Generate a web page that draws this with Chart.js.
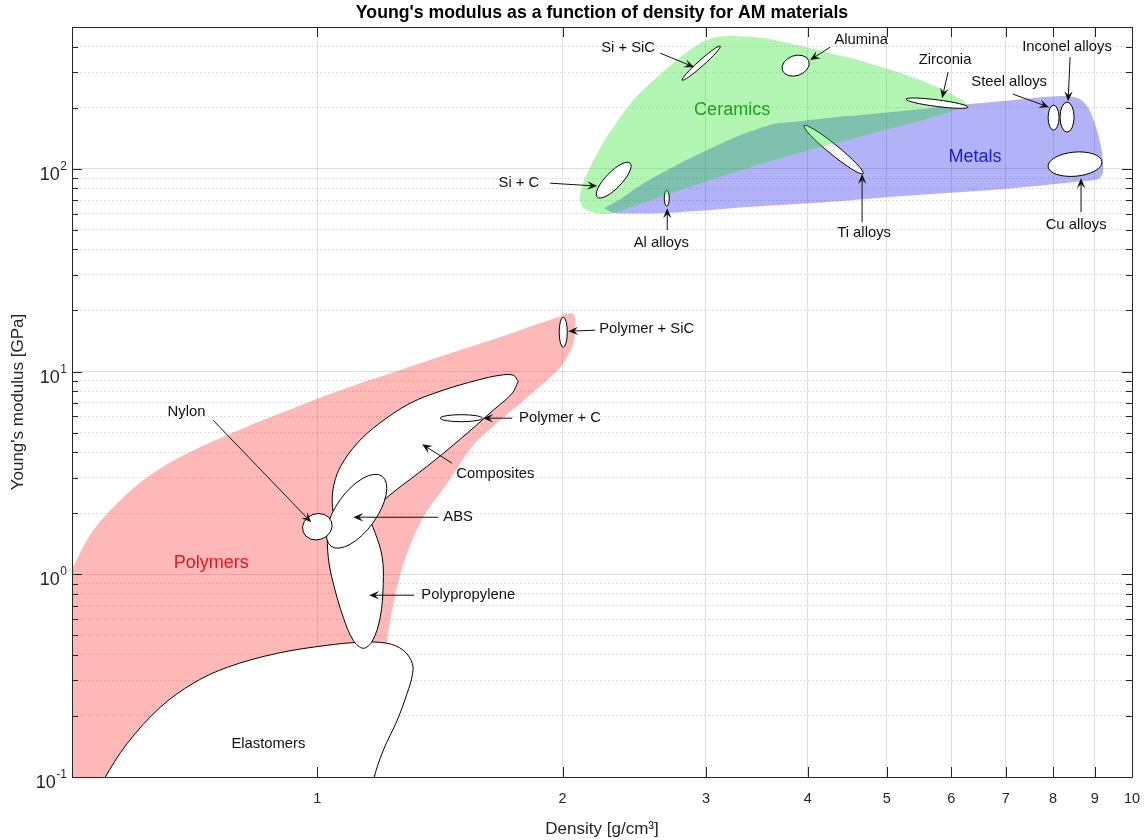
<!DOCTYPE html>
<html>
<head>
<meta charset="utf-8">
<title>Young's modulus vs density</title>
<script src="https://cdn.jsdelivr.net/npm/chart.js"></script>
<style>
  html, body { margin: 0; padding: 0; background: #fff; }
  canvas { display: block; }
</style>
</head>
<body>
<canvas id="chart" width="1146" height="840"></canvas>
<script>
// ticks
const xTickValues = [1, 2, 3, 4, 5, 6, 7, 8, 9, 10];
const yDecades = [0.1, 1, 10, 100];
const yDecadeExp = ['-1', '0', '1', '2'];
const yMinorValues = [0.2, 0.3, 0.4, 0.5, 0.6, 0.7, 0.8, 0.9, 2, 3, 4, 5, 6, 7, 8, 9,
                      20, 30, 40, 50, 60, 70, 80, 90, 200, 300, 400];

// family envelopes, outline points: density [g/cm3], modulus [GPa]
const polymersRho = [0.484, 0.501, 0.531, 0.585, 0.642, 0.705, 0.811, 0.934, 1.076, 1.240, 1.456, 1.677, 1.877, 1.987, 2.056, 2.073,
                     2.062, 1.987, 1.841, 1.677, 1.554, 1.444, 1.349, 1.289, 1.253, 1.229, 1.215, 1.195, 1.175, 1.161, 0.4705];
const polymersE   = [0.834, 1.083, 1.648, 2.51, 3.33, 4.09, 5.25, 6.59, 8.18, 9.92, 12.3, 14.8, 17.3, 18.7, 19.4, 18.3,
                     13.8, 10.5, 7.91, 5.75, 4.33, 2.81, 1.91, 1.27, 0.863, 0.593, 0.422, 0.190, 0.086, 0.0546, 0.0546];

const metalsRho = [2.250, 2.321, 2.789, 3.371, 4.061, 5.193, 6.887, 8.465, 9.085, 9.213, 9.187, 9.058, 8.831,
                   8.585, 8.091, 6.887, 6.274, 5.193, 4.470, 3.913, 3.627, 3.304, 3.061, 2.789, 2.541, 2.354];
const metalsE   = [63.9, 60.4, 61.1, 64.7, 67.7, 73.2, 79.3, 85.9, 88.9, 96.2, 120.8, 155.0, 201.3,
                   222.9, 228.1, 215.5, 208.3, 192.4, 181.8, 171.7, 166.0, 146.5, 127.8, 106.6, 86.9, 70.8];

const ceramicsRho = [2.097, 2.121, 2.206, 2.308, 2.442, 2.614, 2.789, 2.951, 3.096, 3.239, 3.526, 3.882, 4.261,
                     4.677, 5.297, 5.813, 6.099, 6.256, 5.813, 4.770, 3.700, 2.951, 2.563, 2.301, 2.194, 2.121];
const ceramicsE   = [70.0, 85.9, 119.4, 160.4, 217.9, 283.1, 355.3, 416.5, 446.0, 451.1, 441.0, 407.2, 371.8,
                     339.5, 289.6, 249.8, 225.5, 208.3, 183.9, 148.2, 112.8, 84.9, 70.0, 60.4, 60.4, 63.9];

// material bubbles drawn as outlines
const elastomersRho = [0.5046, 0.5463, 0.5846, 0.6417, 0.7044, 0.7757, 0.8932, 1.0287, 1.1291, 1.2185,
                       1.2752, 1.3081, 1.3081, 1.2893, 1.2535, 1.2050, 1.1714, 1.1354, 0.5046];
const elastomersE   = [0.0546, 0.0963, 0.1466, 0.2207, 0.2900, 0.3477, 0.4076, 0.4463, 0.4618, 0.4566,
                       0.4218, 0.3639, 0.3175, 0.2588, 0.1905, 0.1354, 0.0963, 0.0546, 0.0546];

const polypropRho = [1.0977, 1.1453, 1.1781, 1.2015, 1.2050, 1.1948, 1.1681, 1.1387, 1.1071, 1.0762,
                     1.0463, 1.0316, 1.0316, 1.0581, 1.0977];
const polypropE   = [2.371, 2.022, 1.593, 1.213, 0.903, 0.6136, 0.4671, 0.4314, 0.4724, 0.6136,
                     0.903, 1.213, 1.649, 2.117, 2.371];

const compositesRho = [1.7647, 1.7351, 1.6443, 1.4978, 1.3646, 1.2397, 1.1550, 1.0977, 1.0551, 1.0433,
                       1.0492, 1.0702, 1.1196, 1.1881, 1.3005, 1.4277, 1.5716, 1.6770, 1.7397, 1.7647];
const compositesE   = [8.958, 7.816, 6.444, 4.634, 3.410, 2.538, 2.000, 1.686, 1.846, 2.240,
                       2.812, 3.450, 4.429, 5.495, 6.977, 8.087, 9.060, 9.588, 9.588, 8.958];

// elliptical bubbles: both ends of the long axis and one end of the short axis
const ellipseNames  = ['Polymer + SiC', 'Polymer + C', 'ABS', 'Nylon',
                       'Steel alloys', 'Inconel alloys', 'Ti alloys', 'Cu alloys', 'Al alloys',
                       'Si + SiC', 'Alumina', 'Zirconia', 'Si + C'];
const ellipseFamily = ['polymer', 'polymer', 'polymer', 'polymer',
                       'metal', 'metal', 'metal', 'metal', 'metal',
                       'ceramic', 'ceramic', 'ceramic', 'ceramic'];
const ellipseEndA = [[2.004, 13.18], [1.416, 5.885], [1.040, 1.374], [0.961, 1.619],
                     [8.012, 155.0], [8.323, 151.6], [3.959, 163.2], [7.889, 102.5], [2.685, 65.4],
                     [2.805, 273.6], [3.724, 305.5], [5.282, 220.4], [2.206, 72.4]];
const ellipseEndB = [[2.004, 18.53], [1.594, 5.885], [1.201, 3.045], [1.041, 1.818],
                     [8.012, 206.0], [8.323, 213.1], [4.677, 94.6], [9.186, 108.3], [2.685, 78.4],
                     [3.123, 402.5], [4.012, 340.6], [6.292, 201.3], [2.421, 106.6]];
const ellipseSide = [[2.027, 15.63], [1.502, 5.655], [1.170, 1.789], [1.013, 1.494],
                     [8.137, 178.7], [8.490, 179.7], [4.265, 118.9], [8.539, 91.9], [2.704, 71.6],
                     [2.976, 323.7], [3.903, 290.0], [5.757, 202.9], [2.349, 82.4]];

// annotations
const noteText = ['Nylon', 'ABS', 'Polypropylene', 'Composites', 'Polymer + C', 'Polymer + SiC',
                  'Si + SiC', 'Alumina', 'Zirconia', 'Steel alloys', 'Inconel alloys', 'Cu alloys',
                  'Ti alloys', 'Al alloys', 'Si + C', 'Elastomers'];
const noteAt = [[0.691, 6.30], [1.428, 1.911], [1.342, 0.788], [1.654, 3.114], [1.769, 5.885], [2.218, 16.17],
                [2.407, 393.6], [4.651, 430.9], [5.896, 343.4], [7.066, 267.4], [8.323, 398.0], [8.539, 52.7],
                [4.690, 48.1], [2.644, 42.9], [1.873, 84.9], [0.871, 0.145]];
const arrowFrom = [[0.745, 5.752], [1.408, 1.911], [1.315, 0.788], [1.464, 3.528], [1.735, 5.885], [2.194, 15.99],
                   [2.636, 371.8], [4.261, 398.0], [5.946, 299.6], [7.145, 233.3], [8.395, 355.3], [8.659, 61.1],
                   [4.664, 54.5], [2.689, 49.8], [1.931, 84.9], null];
const arrowTo = [[0.983, 1.805], [1.107, 1.911], [1.158, 0.788], [1.345, 4.378], [1.598, 5.885], [2.032, 15.80],
                 [2.901, 317.1], [4.026, 343.4], [5.847, 222.9], [7.909, 201.3], [8.348, 215.5], [8.659, 89.9],
                 [4.664, 94.1], [2.689, 63.9], [2.206, 82.1], null];
const noteAlign = ['center', 'left', 'left', 'center', 'left', 'left', 'center', 'center', 'center', 'center',
                   'center', 'center', 'center', 'center', 'right', 'center'];

const regionNames = ['Polymers', 'Ceramics', 'Metals'];
const regionAt = [[0.741, 1.133], [3.230, 194.6], [6.417, 114.1]];
const regionColors = ['rgb(228,22,30)', 'rgb(32,158,32)', 'rgb(28,28,205)'];

const FONT = "'Liberation Sans', Arial, Helvetica, sans-serif";
const ink = '#262626';
Chart.defaults.font.family = FONT;

const yGridValues = yDecades.concat(yMinorValues);
function isDecade(v) { return Math.abs(Math.log10(v) - Math.round(Math.log10(v))) < 1e-9; }
function outline(rho, E) { return rho.map((r, i) => ({ x: r, y: E[i] })); }

function toPx(chart, p) {
  return [chart.scales.x.getPixelForValue(p[0]), chart.scales.y.getPixelForValue(p[1])];
}

function drawEllipse(ctx, chart, i) {
  const [ax, ay] = toPx(chart, ellipseEndA[i]);
  const [bx, by] = toPx(chart, ellipseEndB[i]);
  const [sx, sy] = toPx(chart, ellipseSide[i]);
  const cx = (ax + bx) / 2, cy = (ay + by) / 2;
  const rx = Math.hypot(bx - ax, by - ay) / 2;
  const ry = Math.hypot(sx - cx, sy - cy);
  ctx.beginPath();
  ctx.ellipse(cx, cy, rx, ry, Math.atan2(by - ay, bx - ax), 0, Math.PI * 2);
  ctx.fillStyle = '#fff';
  ctx.fill();
  ctx.lineWidth = 1;
  ctx.strokeStyle = '#000';
  ctx.stroke();
}

function drawArrow(ctx, chart, from, to) {
  const [x0, y0] = toPx(chart, from);
  const [x1, y1] = toPx(chart, to);
  const len = Math.hypot(x1 - x0, y1 - y0);
  const ux = (x1 - x0) / len, uy = (y1 - y0) / len;
  const L = 10, W = 4.2;
  ctx.beginPath();
  ctx.moveTo(x0, y0);
  ctx.lineTo(x1 - ux * L * 0.6, y1 - uy * L * 0.6);
  ctx.stroke();
  ctx.beginPath();
  ctx.moveTo(x1, y1);
  ctx.lineTo(x1 - ux * L - uy * W, y1 - uy * L + ux * W);
  ctx.lineTo(x1 - ux * L * 0.6, y1 - uy * L * 0.6);
  ctx.lineTo(x1 - ux * L + uy * W, y1 - uy * L - ux * W);
  ctx.closePath();
  ctx.fill();
}

const ellipsesAfter = { Composites: 'polymer', Metals: 'metal', Ceramics: 'ceramic' };

const overlay = {
  id: 'overlay',
  afterDatasetDraw(chart, args) {
    const fam = ellipsesAfter[chart.data.datasets[args.index].label];
    if (!fam) return;
    const ctx = chart.ctx, a = chart.chartArea;
    ctx.save();
    ctx.beginPath();
    ctx.rect(a.left, a.top, a.right - a.left, a.bottom - a.top);
    ctx.clip();
    ellipseNames.forEach((n, i) => { if (ellipseFamily[i] === fam) drawEllipse(ctx, chart, i); });
    ctx.restore();
  },
  afterDatasetsDraw(chart) {
    const ctx = chart.ctx;
    ctx.save();
    ctx.strokeStyle = '#111';
    ctx.fillStyle = '#111';
    ctx.lineWidth = 1;
    noteText.forEach((t, i) => {
      if (arrowFrom[i]) drawArrow(ctx, chart, arrowFrom[i], arrowTo[i]);
      const [x, y] = toPx(chart, noteAt[i]);
      ctx.font = '14.8px ' + FONT;
      ctx.textAlign = noteAlign[i];
      ctx.textBaseline = 'middle';
      ctx.fillText(t, x, y);
    });
    regionNames.forEach((t, i) => {
      const [x, y] = toPx(chart, regionAt[i]);
      ctx.font = '18px ' + FONT;
      ctx.textAlign = 'center';
      ctx.textBaseline = 'middle';
      ctx.fillStyle = regionColors[i];
      ctx.fillText(t, x, y);
    });
    ctx.restore();
  },
  afterDraw(chart) {
    const ctx = chart.ctx, a = chart.chartArea;
    const xs = chart.scales.x, ys = chart.scales.y;
    ctx.save();
    ctx.strokeStyle = ink;
    ctx.lineWidth = 1;
    ctx.beginPath();
    xTickValues.forEach(v => {
      if (v >= 10) return;
      const p = Math.round(xs.getPixelForValue(v)) + 0.5;
      ctx.moveTo(p, a.bottom); ctx.lineTo(p, a.bottom - 10);
      ctx.moveTo(p, a.top); ctx.lineTo(p, a.top + 10);
    });
    yGridValues.forEach(v => {
      if (v <= 0.1) return;
      const p = Math.round(ys.getPixelForValue(v)) + 0.5;
      const len = isDecade(v) ? 10 : 6;
      ctx.moveTo(a.left, p); ctx.lineTo(a.left + len, p);
      ctx.moveTo(a.right, p); ctx.lineTo(a.right - len, p);
    });
    ctx.stroke();
    ctx.strokeRect(Math.round(a.left) + 0.5, Math.round(a.top) + 0.5,
                   Math.round(a.right - a.left), Math.round(a.bottom - a.top));

    // decade labels 10^n
    ctx.fillStyle = ink;
    ctx.textBaseline = 'alphabetic';
    yDecades.forEach((v, i) => {
      const p = ys.getPixelForValue(v);
      const right = a.left - 5;
      ctx.font = '12px ' + FONT;
      const ew = ctx.measureText(yDecadeExp[i]).width;
      ctx.textAlign = 'left';
      ctx.fillText(yDecadeExp[i], right - ew, p + 1);
      ctx.font = '18px ' + FONT;
      ctx.textAlign = 'right';
      ctx.fillText('10', right - ew - 0.5, p + 11);
    });
    ctx.restore();
  }
};

const datasets = [
  { label: 'Polymers', data: outline(polymersRho, polymersE), order: 6, fill: 'shape',
    backgroundColor: 'rgba(255,0,0,0.28)', borderColor: 'rgba(0,0,0,0)', borderWidth: 0, tension: 0.3 },
  { label: 'Elastomers', data: outline(elastomersRho, elastomersE), order: 5, fill: 'shape',
    backgroundColor: '#fff', borderColor: '#000', borderWidth: 1, tension: 0.35 },
  { label: 'Polypropylene', data: outline(polypropRho, polypropE), order: 4, fill: 'shape',
    backgroundColor: '#fff', borderColor: '#000', borderWidth: 1, tension: 0.35 },
  { label: 'Composites', data: outline(compositesRho, compositesE), order: 3, fill: 'shape',
    backgroundColor: '#fff', borderColor: '#000', borderWidth: 1, tension: 0.35 },
  { label: 'Metals', data: outline(metalsRho, metalsE), order: 2, fill: 'shape',
    backgroundColor: 'rgba(0,0,235,0.3)', borderColor: 'rgba(0,0,0,0)', borderWidth: 0, tension: 0.3 },
  { label: 'Ceramics', data: outline(ceramicsRho, ceramicsE), order: 1, fill: 'shape',
    backgroundColor: 'rgba(20,225,20,0.32)', borderColor: 'rgba(0,0,0,0)', borderWidth: 0, tension: 0.3 }
];
datasets.forEach(d => { d.pointRadius = 0; d.pointHoverRadius = 0; d.pointHitRadius = 0; });

new Chart(document.getElementById('chart'), {
  type: 'line',
  data: { datasets: datasets },
  options: {
    responsive: false,
    animation: false,
    devicePixelRatio: 1,
    events: [],
    layout: { padding: { left: 0, right: 14, top: 0, bottom: 0 } },
    plugins: {
      legend: { display: false },
      tooltip: { enabled: false },
      title: {
        display: true, fullSize: false,
        text: "Young's modulus as a function of density for AM materials",
        color: '#000', font: { size: 17.7, weight: 'bold' },
        padding: { top: 2, bottom: 3.8 }
      }
    },
    scales: {
      x: {
        type: 'logarithmic', min: 0.5, max: 10,
        afterBuildTicks: s => { s.ticks = xTickValues.map(v => ({ value: v })); },
        afterFit: s => { s.height = 63; s.paddingLeft = 0; s.paddingRight = 0; },
        ticks: { autoSkip: false, maxRotation: 0, padding: 13, color: ink, font: { size: 14.5 },
                 callback: v => String(v) },
        grid: { color: 'rgba(38,38,38,0.15)', drawTicks: false },
        border: { display: false },
        title: { display: true, text: 'Density [g/cm³]', color: ink, font: { size: 17 },
                 padding: { top: 0, bottom: 0.8 } }
      },
      y: {
        type: 'logarithmic', min: 0.1, max: 500,
        afterBuildTicks: s => { s.ticks = yGridValues.map(v => ({ value: v })); },
        afterFit: s => { s.width = 72; s.paddingTop = 0; s.paddingBottom = 0; },
        ticks: { display: false },
        grid: {
          drawTicks: false,
          color: c => (c.tick && !isDecade(c.tick.value)) ? 'rgba(38,38,38,0.2)' : 'rgba(38,38,38,0.15)'
        },
        border: {
          display: false,
          dash: c => (c.tick && !isDecade(c.tick.value)) ? [1.5, 2.5] : []
        },
        title: { display: true, text: "Young's modulus [GPa]", color: ink, font: { size: 17 },
                 padding: { top: 8.3, bottom: 0 } }
      }
    }
  },
  plugins: [overlay]
});
</script>
</body>
</html>
